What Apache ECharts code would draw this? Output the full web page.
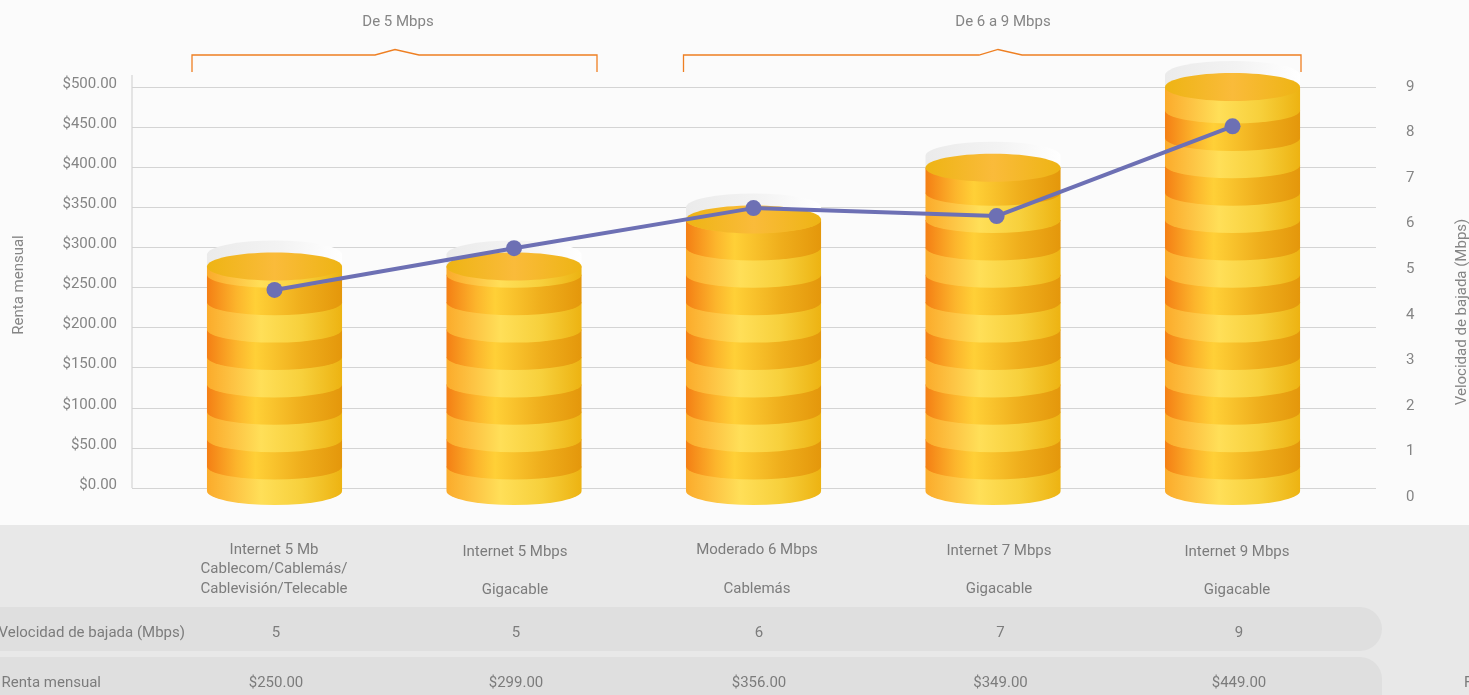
<!DOCTYPE html>
<html><head><meta charset="utf-8">
<style>html,body{margin:0;padding:0;background:#fbfbfb;overflow:hidden}#c{width:1469px;height:695px}</style>
<script src="https://cdn.jsdelivr.net/npm/echarts@6/dist/echarts.min.js"></script>
</head><body><div id="c"></div>
<script>
const FONT = 'Roboto, Lato, sans-serif';
const FS = 15;
const FW = 400;
const TEXT = '#858585';
const TABLE_TEXT = '#7c7c7c';

const rentTicks = [0, 50, 100, 150, 200, 250, 300, 350, 400, 450, 500];
const speedTicks = [0, 1, 2, 3, 4, 5, 6, 7, 8, 9];
const planNames = [
  ['Internet 5 Mb', 'Cablecom/Cablemás/', 'Cablevisión/Telecable'],
  ['Internet 5 Mbps', '', 'Gigacable'],
  ['Moderado 6 Mbps', '', 'Cablemás'],
  ['Internet 7 Mbps', '', 'Gigacable'],
  ['Internet 9 Mbps', '', 'Gigacable']
];
const speedRow = ['5', '5', '6', '7', '9'];
const rentRow = ['$250.00', '$299.00', '$356.00', '$349.00', '$449.00'];
const barSlots = [0, 1, 2, 3, 4];
const barHeights = [5, 5, 6.05, 7.2, 9];
const lineSlots = [0, 1, 2, 3.015, 4];
const lineValues = [247, 299, 349, 339, 451];
const groupLabels = ['De 5 Mbps', 'De 6 a 9 Mbps'];

const X0 = 132, X1 = 1376;
const xRange = { type: 'value', min: -0.595, max: 4.599, show: false };
const grids = [
  { left: X0, width: X1 - X0, top: 87, height: 401 },
  { left: X0, width: X1 - X0, top: 87, height: 410 },
  { left: X0, width: X1 - X0, top: 87, height: 404 }
];

const sideLight = { type: 'linear', x: 0, y: 0, x2: 1, y2: 0, colorStops: [
  { offset: 0, color: '#fbab2b' }, { offset: 0.2, color: '#fdc444' }, { offset: 0.4, color: '#ffdf58' },
  { offset: 0.7, color: '#f7d03c' }, { offset: 1, color: '#edb312' }] };
const sideDark = { type: 'linear', x: 0, y: 0, x2: 1, y2: 0, colorStops: [
  { offset: 0, color: '#f47f14' }, { offset: 0.22, color: '#fcb52c' }, { offset: 0.36, color: '#ffd037' },
  { offset: 0.7, color: '#efae1c' }, { offset: 1, color: '#e4970b' }] };
const topFill = { type: 'linear', x: 0, y: 0, x2: 1, y2: 0, colorStops: [
  { offset: 0, color: '#eeb414' }, { offset: 0.5, color: '#fabb3a' }, { offset: 1, color: '#eeb414' }] };
const ghostFill = { type: 'linear', x: 0, y: 0, x2: 1, y2: 0, colorStops: [
  { offset: 0, color: '#ebebeb' }, { offset: 0.55, color: '#f3f3f3' }, { offset: 1, color: '#ffffff' }] };

function renderCylinder(params, api) {
  const slot = api.value(0), h = api.value(1);
  const top = api.coord([slot, h]), base = api.coord([slot, 0]);
  const cx = top[0], yt = top[1], yb = base[1];
  const rx = api.size([0.564, 0])[0] / 2, ry = 14;
  const bandH = api.size([0, 0.61])[1];
  const firstH = api.size([0, 0.545])[1];
  const kids = [];
  const gy = yt - 12;
  kids.push({ type: 'path',
    shape: { pathData: `M${cx-rx} ${yt+2}L${cx-rx} ${gy}A${rx} ${ry} 0 0 1 ${cx+rx} ${gy}L${cx+rx} ${yt+2}Z` },
    style: { fill: ghostFill }, z2: 1 });
  let b = yb, i = 0;
  while (b > yt) {
    const t = Math.max(yt, b - (i ? bandH : firstH));
    const sag = i ? 13 : ry;
    kids.push({ type: 'path',
      shape: { pathData: `M${cx-rx} ${t}L${cx+rx} ${t}L${cx+rx} ${b}A${rx} ${sag} 0 0 1 ${cx-rx} ${b}Z` },
      style: { fill: i % 2 ? sideDark : sideLight }, z2: 2 + i });
    b = t; i++;
  }
  kids.push({ type: 'ellipse', shape: { cx, cy: yt, rx, ry }, style: { fill: topFill }, z2: 60 });
  return { type: 'group', children: kids };
}

const graphics = [];
function txt(x, y, s, extra) {
  graphics.push(Object.assign({ type: 'text', x, y: y + 1, silent: true, z: 5,
    style: Object.assign({ text: s, fontFamily: FONT, fontSize: FS, fontWeight: FW, fill: TABLE_TEXT, align: 'center', verticalAlign: 'middle' }, extra || {}) }));
}
graphics.push({ type: 'rect', z: -10, silent: true, shape: { x: 0, y: 525, width: 1469, height: 170 }, style: { fill: '#e8e8e8' } });
graphics.push({ type: 'rect', z: -9, silent: true, shape: { x: -40, y: 607, width: 1422, height: 44, r: 22 }, style: { fill: '#dfdfdf' } });
graphics.push({ type: 'rect', z: -9, silent: true, shape: { x: -40, y: 657, width: 1422, height: 60, r: 22 }, style: { fill: '#dfdfdf' } });
graphics.push({ type: 'line', z: 0, silent: true, shape: { x1: 132, y1: 75, x2: 132, y2: 488 }, style: { stroke: '#dcdcdc', lineWidth: 1.5 } });

const bracketStyle = { fill: 'none', stroke: '#ee7f22', lineWidth: 1.3 };
graphics.push({ type: 'polyline', silent: true, shape: { points: [[192,72],[192,55],[375,55],[395,49.5],[419,55],[597,55],[597,72]] }, style: bracketStyle });
graphics.push({ type: 'polyline', silent: true, shape: { points: [[683.5,72],[683.5,55],[979,55],[998,49.5],[1022,55],[1301,55],[1301,72]] }, style: bracketStyle });
txt(398, 21, groupLabels[0], { fill: TEXT });
txt(1003, 21, groupLabels[1], { fill: TEXT });

graphics.push({ type: 'text', silent: true, x: 19, y: 285, rotation: Math.PI / 2,
  style: { text: 'Renta mensual', fontFamily: FONT, fontSize: FS, fontWeight: FW, fill: TEXT, align: 'center', verticalAlign: 'middle' } });
graphics.push({ type: 'text', silent: true, x: 1462, y: 312, rotation: Math.PI / 2,
  style: { text: 'Velocidad de bajada (Mbps)', fontFamily: FONT, fontSize: FS, fontWeight: FW, fill: TEXT, align: 'center', verticalAlign: 'middle' } });

const nameX = [274, 515, 757, 999, 1237];
const nameY = [[549, 568, 588], [551, 570, 589], [549, 568, 588], [550, 569, 588], [551, 570, 589]];
const rowX = [276, 516, 759, 1000.5, 1239];
planNames.forEach((lines, c) => {
  lines.forEach((s, l) => { if (s) txt(nameX[c], nameY[c][l], s); });
  txt(rowX[c], 632, speedRow[c]);
  txt(rowX[c], 682, rentRow[c]);
});
txt(185, 632, 'Velocidad de bajada (Mbps)', { align: 'right' });
txt(101, 682, 'Renta mensual', { align: 'right' });
txt(1464, 682, 'F', { align: 'left' });

const chart = echarts.init(document.getElementById('c'), null, { renderer: 'canvas' });
chart.setOption({
  animation: false,
  backgroundColor: '#fbfbfb',
  grid: grids,
  graphic: graphics,
  xAxis: [
    Object.assign({ gridIndex: 0 }, xRange),
    Object.assign({ gridIndex: 1 }, xRange),
    Object.assign({ gridIndex: 2 }, xRange)
  ],
  yAxis: [
    { type: 'value', gridIndex: 0, min: 0, max: 500, interval: 50,
      axisLine: { show: false }, axisTick: { show: false },
      splitLine: { show: true, lineStyle: { color: '#d4d4d4', width: 1.2 } },
      axisLabel: { margin: 15, color: TEXT, fontFamily: FONT, fontSize: FS, fontWeight: FW,
        verticalAlign: 'bottom', lineHeight: 6,
        formatter: v => '$' + v.toFixed(2) } },
    { type: 'value', gridIndex: 1, position: 'right', min: 0, max: 9, interval: 1,
      axisLine: { show: false }, axisTick: { show: false }, splitLine: { show: false },
      axisLabel: { margin: 30, color: TEXT, fontFamily: FONT, fontSize: FS, fontWeight: FW } },
    { type: 'value', gridIndex: 2, min: 0, max: 9, show: false, splitLine: { show: false } }
  ],
  series: [
    { type: 'custom', name: 'Velocidad de bajada (Mbps)', xAxisIndex: 2, yAxisIndex: 2, z: 3, clip: false,
      encode: { x: 0, y: 1 }, renderItem: renderCylinder,
      data: barSlots.map((s, i) => [s, barHeights[i]]) },
    { type: 'line', name: 'Renta mensual', xAxisIndex: 0, yAxisIndex: 0, z: 10,
      symbol: 'circle', symbolSize: 16, clip: false,
      lineStyle: { color: '#6d70b4', width: 4 }, itemStyle: { color: '#6d70b4' },
      data: lineSlots.map((s, i) => [s, lineValues[i]]) }
  ]
});
</script></body></html>
